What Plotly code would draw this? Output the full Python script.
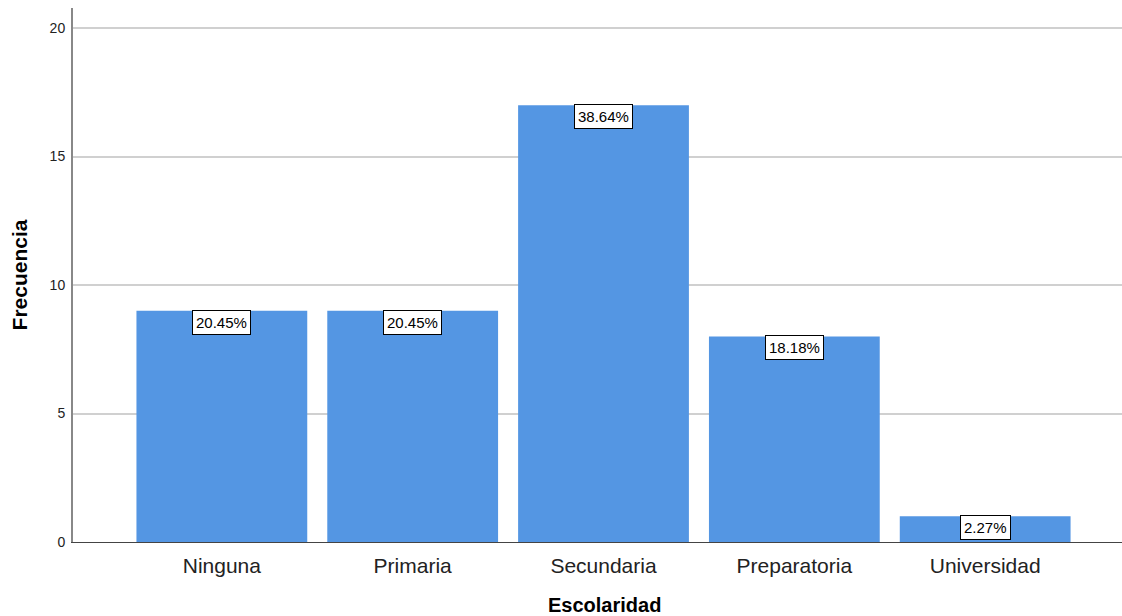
import plotly.graph_objects as go

categories = ["Ninguna", "Primaria", "Secundaria", "Preparatoria", "Universidad"]
frequencies = [9, 9, 17, 8, 1]
percent_labels = ["20.45%", "20.45%", "38.64%", "18.18%", "2.27%"]
y_ticks = [0, 5, 10, 15, 20]

FONT = "Arial, Liberation Sans, sans-serif"
BAR_COLOR = "#5496E3"

fig = go.Figure()
fig.add_trace(go.Bar(
    x=categories, y=frequencies,
    marker=dict(color=BAR_COLOR, line=dict(width=0)),
    hoverinfo="x+y",
))

for c, v, t in zip(categories, frequencies, percent_labels):
    fig.add_annotation(
        x=c, y=v, text=t, showarrow=False, yanchor="top", yshift=1,
        font=dict(family=FONT, size=15, color="black"),
        bgcolor="white", bordercolor="black", borderwidth=1, borderpad=3,
    )

# x-axis title, placed slightly right of the plot centre as in the reference
fig.add_annotation(
    text="<b>Escolaridad</b>", xref="paper", yref="paper",
    x=0.507, y=0, yshift=-50, xanchor="center", yanchor="top", showarrow=False,
    font=dict(family=FONT, size=20, color="black"),
)

fig.update_layout(
    width=1122, height=616,
    margin=dict(l=73, r=0, t=8, b=74),
    paper_bgcolor="white", plot_bgcolor="white",
    bargap=0.105,
    showlegend=False,
    font=dict(family=FONT, color="#222222"),
    xaxis=dict(
        range=[-0.78, 4.717],
        showgrid=False, showline=True, linecolor="#444444", linewidth=1,
        ticks="outside", ticklen=5, tickcolor="rgba(0,0,0,0)",
        tickfont=dict(family=FONT, size=21, color="#222222"),
        zeroline=False,
    ),
    yaxis=dict(
        range=[0, 20.78],
        tickvals=y_ticks,
        showgrid=True, gridcolor="#D0D0D0", gridwidth=2,
        showline=True, linecolor="#888888", linewidth=2,
        ticks="outside", ticklen=3, tickcolor="rgba(0,0,0,0)",
        tickfont=dict(family=FONT, size=14, color="#222222"),
        title=dict(text="<b>Frecuencia</b>", font=dict(family=FONT, size=21, color="black"), standoff=16),
        zeroline=False,
    ),
)

fig.write_html(
    "out.html",
    config={"displayModeBar": False},
    post_script="document.body.style.margin='0';document.body.style.overflow='hidden';",
)
